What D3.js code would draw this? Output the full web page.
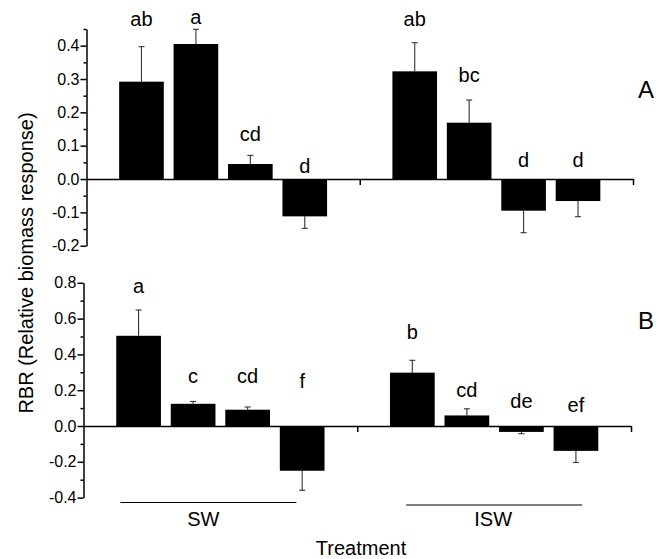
<!DOCTYPE html>
<html>
<head>
<meta charset="utf-8">
<script src="https://cdn.jsdelivr.net/npm/d3@7"></script>
<style>
  body { margin: 0; background: #fff; }
  svg { font-family: "Liberation Sans", Arial, Helvetica, sans-serif; }
</style>
</head>
<body>
<div id="chart"></div>
<script>
// data
groups = ["SW", "ISW"]
bars = ["1", "2", "3", "4"]

// panel A
rbrA = [0.292, 0.405, 0.045, -0.112, 0.323, 0.169, -0.095, -0.066]
errA = [0.105, 0.044, 0.026, 0.036, 0.086, 0.068, 0.066, 0.047]
lettersA = ["ab", "a", "cd", "d", "ab", "bc", "d", "d"]
letterYA = [0.458, 0.465, 0.114, 0.018, 0.459, 0.291, 0.036, 0.036]
majorA = [-0.2, -0.1, 0.0, 0.1, 0.2, 0.3, 0.4]
minorA = [-0.15, -0.05, 0.05, 0.15, 0.25, 0.35, 0.45]

// panel B
rbrB = [0.504, 0.124, 0.091, -0.25, 0.298, 0.059, -0.033, -0.139]
errB = [0.144, 0.013, 0.015, 0.109, 0.069, 0.037, 0.010, 0.065]
lettersB = ["a", "c", "cd", "f", "b", "cd", "de", "ef"]
letterYB = [0.741, 0.240, 0.240, 0.212, 0.484, 0.164, 0.102, 0.080]
majorB = [-0.4, -0.2, 0.0, 0.2, 0.4, 0.6, 0.8]
minorB = [-0.3, -0.1, 0.1, 0.3, 0.5, 0.7]

width = 664
height = 559

svg = d3.select("#chart").append("svg")
  .attr("width", width)
  .attr("height", height)

function panel(opt) {
  var y = d3.scaleLinear().domain(opt.domain).range(opt.range)

  var xGroup = d3.scaleBand().domain(groups).range([opt.left, opt.right])
  var xBar = d3.scaleBand().domain(bars)
    .range([0, xGroup.bandwidth()])
    .paddingInner(0.18)
    .paddingOuter(0.6)

  var rows = opt.values.map(function(v, i) {
    return {
      group: groups[Math.floor(i / bars.length)],
      bar: bars[i % bars.length],
      value: v,
      err: opt.errs[i],
      letter: opt.letters[i],
      ly: opt.letterY[i]
    }
  })
  var cx = function(d) { return xGroup(d.group) + xBar(d.bar) + xBar.bandwidth() / 2 }

  var g = svg.append("g")

  // error bars (one sided, away from zero)
  var tip = function(d) { return d.value >= 0 ? d.value + d.err : d.value - d.err }
  g.selectAll(".err")
    .data(rows)
    .join("line")
    .attr("x1", cx).attr("x2", cx)
    .attr("y1", function(d) { return y(d.value) })
    .attr("y2", function(d) { return y(tip(d)) })
    .attr("stroke", "#333")
    .attr("stroke-width", 1.1)
  g.selectAll(".cap")
    .data(rows)
    .join("line")
    .attr("x1", function(d) { return cx(d) - 3 })
    .attr("x2", function(d) { return cx(d) + 3 })
    .attr("y1", function(d) { return y(tip(d)) })
    .attr("y2", function(d) { return y(tip(d)) })
    .attr("stroke", "#333")
    .attr("stroke-width", 1.1)

  // bars
  g.selectAll("rect")
    .data(rows)
    .join("rect")
    .attr("x", function(d) { return xGroup(d.group) + xBar(d.bar) })
    .attr("width", xBar.bandwidth())
    .attr("y", function(d) { return y(Math.max(0, d.value)) })
    .attr("height", function(d) { return Math.abs(y(d.value) - y(0)) })
    .style("fill", "black")

  // significance letters
  g.selectAll(".letter")
    .data(rows)
    .join("text")
    .attr("x", cx)
    .attr("y", function(d) { return y(d.ly) })
    .attr("text-anchor", "middle")
    .attr("font-size", "20px")
    .text(function(d) { return d.letter })

  // y axis, major + minor ticks
  var ya = g.append("g")
    .attr("transform", "translate(" + opt.left + ",0)")
    .call(d3.axisLeft(y).tickValues(opt.major).tickSize(6).tickSizeOuter(0)
      .tickFormat(function(d) { return d.toFixed(1) }))
  ya.selectAll("text").attr("font-size", "16px").attr("fill", "#000").attr("x", -7)
  var ym = g.append("g")
    .attr("transform", "translate(" + opt.left + ",0)")
    .call(d3.axisLeft(y).tickValues(opt.minor).tickSize(3).tickFormat(""))
  ym.select(".domain").remove()

  // zero line with ticks at the group boundaries
  var xb = d3.scaleLinear().domain([0, 2]).range([opt.left, opt.right])
  var xa = g.append("g")
    .attr("transform", "translate(0," + y(0) + ")")
    .call(d3.axisBottom(xb).tickValues([1, 2]).tickSize(6).tickSizeOuter(0).tickFormat(""))

  g.selectAll(".domain, .tick line")
    .attr("stroke", "#000")
    .attr("stroke-width", 1.5)

  svg.append("text")
    .attr("x", 646)
    .attr("y", opt.labelY)
    .attr("text-anchor", "middle")
    .attr("font-size", "24px")
    .text(opt.label)

  return xGroup
}

panel({
  values: rbrA, errs: errA, letters: lettersA, letterY: letterYA,
  major: majorA, minor: minorA,
  domain: [-0.2, 0.45], range: [245.7, 29],
  left: 86.5, right: 633, label: "A", labelY: 98
})

var xG = panel({
  values: rbrB, errs: errB, letters: lettersB, letterY: letterYB,
  major: majorB, minor: minorB,
  domain: [-0.4, 0.8], range: [497.6, 282.8],
  left: 83.5, right: 631, label: "B", labelY: 329
})

// treatment group lines and names under panel B
var shift = {SW: -12, ISW: 0}
var lineY = {SW: 502.5, ISW: 505}
groups.forEach(function(k) {
  var c = xG(k) + xG.bandwidth() / 2 + shift[k]
  svg.append("line")
    .attr("x1", c - 88).attr("x2", c + 88)
    .attr("y1", lineY[k]).attr("y2", lineY[k])
    .attr("stroke", "#000")
    .attr("stroke-width", 1.2)
  svg.append("text")
    .attr("x", c - (k == "SW" ? 5 : 1))
    .attr("y", 525.5)
    .attr("text-anchor", "middle")
    .attr("font-size", "20px")
    .text(k)
})

svg.append("text")
  .attr("x", 361)
  .attr("y", 555)
  .attr("text-anchor", "middle")
  .attr("font-size", "20px")
  .text("Treatment")

svg.append("text")
  .attr("transform", "translate(33,263) rotate(-90)")
  .attr("text-anchor", "middle")
  .attr("font-size", "20px")
  .text("RBR (Relative biomass response)")
</script>
</body>
</html>
